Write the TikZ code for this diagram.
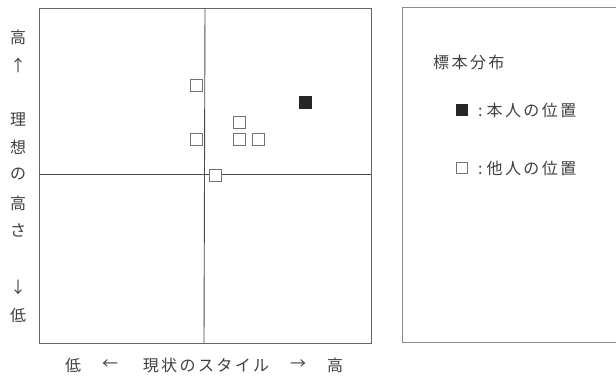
\documentclass[tikz,border=0pt]{standalone}
\usepackage{fontspec}
\newfontfamily\cjk{Noto Sans CJK JP}
\newfontfamily\cjksp{Noto Sans CJK JP}[LetterSpace=15]
\begin{document}
\begin{tikzpicture}[x=1pt,y=-1pt,
  frame/.style={draw=black!60,line width=0.9pt},
  axis/.style={draw=black!70,line width=0.9pt},
  other/.style={draw=black!55,line width=0.8pt,fill=white,minimum size=12pt,inner sep=0pt},
  self/.style={draw=black!85,fill=black!85,minimum size=12pt,inner sep=0pt},
  lbl/.style={font=\cjk\fontsize{16}{16}\selectfont,text=black!75,inner sep=0pt},
  lg/.style={font=\cjksp\fontsize{16}{16}\selectfont,text=black!75,inner sep=0pt,anchor=west}]
\useasboundingbox (0,0) rectangle (616,375);
\fill[white] (0,0) rectangle (616,375);
% plot frame
\draw[frame] (39,8) rectangle (371,343);
\coordinate (vt) at (205,8);
\coordinate (vb) at (204,343);
\coordinate (hl) at (39,174);
\coordinate (hr) at (371,174);
\draw[axis] (vt) -- (vb);
\draw[axis] (hl) -- (hr);
% points
\node[other] (p1) at (196,85) {};
\node[other] (p2) at (196,139) {};
\node[other] (p3) at (239,122) {};
\node[other] (p4) at (239,139) {};
\node[other] (p5) at (258,139) {};
\node[other] (p6) at (215,175) {};
\node[self] (me) at (305,102) {};
% left axis labels
\node[lbl] (l1) at (18,37) {高};
\node[lbl] (l2) at (18,65) {↑};
\node[lbl] (l3) at (18,120) {理};
\node[lbl] (l4) at (18,147) {想};
\node[lbl] (l5) at (18,174) {の};
\node[lbl] (l6) at (18,203) {高};
\node[lbl] (l7) at (18,230) {さ};
\node[lbl] (l8) at (18,287) {↓};
\node[lbl] (l9) at (18,315) {低};
% bottom axis labels
\node[lbl] (b1) at (73,365) {低};
\node[lbl] (b2) at (110,365) {←};
\node[lg,anchor=center] (b3) at (206,365) {現状のスタイル};
\node[lbl] (b4) at (298,365) {→};
\node[lbl] (b5) at (335,365) {高};
% legend box
\draw[draw=black!45,line width=0.8pt] (620,7) -- (402,7) -- (402,342) -- (620,342);
\node[lg] (t) at (433,62) {標本分布};
\node[self,minimum size=11pt] (ls) at (462,110) {};
\node[lg] (lst) at (478,110) {:\hspace{4pt}本人の位置};
\node[other,minimum size=11pt] (lo) at (462,168) {};
\node[lg] (lot) at (478,168) {:\hspace{4pt}他人の位置};
\end{tikzpicture}
\end{document}
